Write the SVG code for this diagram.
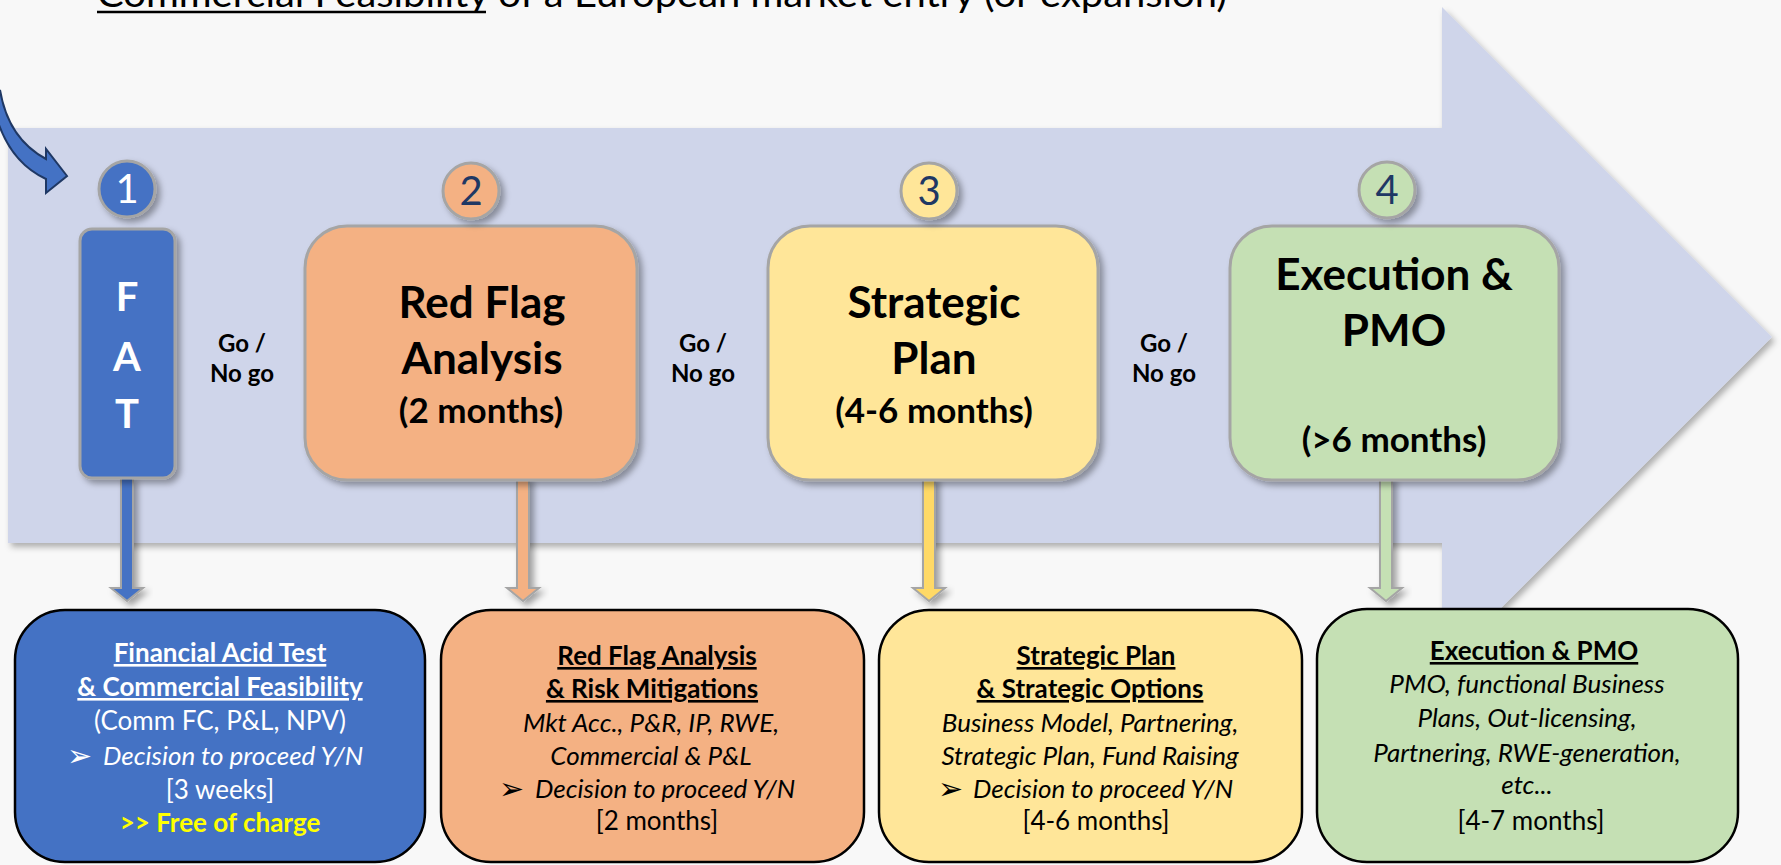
<svg xmlns="http://www.w3.org/2000/svg" width="1781" height="865" viewBox="0 0 1781 865">
<defs>
<filter id="sh" x="-20%" y="-20%" width="150%" height="150%">
<feDropShadow dx="4" dy="4" stdDeviation="3" flood-color="#000" flood-opacity="0.35"/>
</filter>
<filter id="shb" x="-5%" y="-5%" width="115%" height="115%">
<feDropShadow dx="3" dy="4" stdDeviation="3" flood-color="#000" flood-opacity="0.3"/>
</filter>
</defs>
<style>
text{font-family:Lato,"Open Sans","Liberation Sans",sans-serif}
.top{stroke:#A5A5A5;stroke-width:3;filter:url(#sh)}
.circ{stroke:#A5A5A5;stroke-width:3;filter:url(#sh)}
.num{font-size:40px;text-anchor:middle}
.big{font-size:44px;font-weight:bold;text-anchor:middle;fill:#000}
.dur{font-size:35px;font-weight:bold;text-anchor:middle;fill:#000}
.go{font-size:24px;font-weight:bold;text-anchor:middle;fill:#000}
.fat{font-size:40px;font-weight:bold;text-anchor:middle;fill:#fff}
.bot{stroke:#000;stroke-width:2.5}
.bt{font-size:26px;text-anchor:middle}
.st{text-anchor:start}
.hd{font-weight:bold;text-decoration:underline}
.it{font-style:italic}
.bul{font-family:"DejaVu Sans",sans-serif;font-size:30px}
.conn{stroke:#A5A5A5;stroke-width:2;filter:url(#sh)}
</style>
<rect x="0" y="0" width="1781" height="865" fill="#F8F8F8"/>
<g id="band">
<path d="M8,128 L1442,128 L1442,7 L1772,337 L1442,667 L1442,543 L8,543 Z" fill="#CFD5EA" filter="url(#shb)"/>
</g>
<g id="title">
<text x="97" y="7" font-size="36" fill="#000" textLength="1130" lengthAdjust="spacingAndGlyphs">Commercial Feasibility of a European market entry (or expansion)</text>
<line x1="97" y1="12" x2="486" y2="12" stroke="#000" stroke-width="2.5"/>
</g>
<g id="entry-arrow">
<path d="M0,90 C5,120 20,145 46,159 L46,149 L67,176 L46,193 L46,179 C18,166 2,142 -6,108 Z" fill="#4472C4" stroke="#1F3864" stroke-width="2"/>
</g>
<g id="connectors">
<path class="conn" fill="#4472C4" d="M121,478 L133,478 L133,588 L143,588 L127,601 L111,588 L121,588 Z"/>
<path class="conn" fill="#F4B183" d="M517,478 L529,478 L529,588 L539,588 L523,601 L507,588 L517,588 Z"/>
<path class="conn" fill="#FFD966" d="M923,478 L935,478 L935,588 L945,588 L929,601 L913,588 L923,588 Z"/>
<path class="conn" fill="#C5E0B4" d="M1380,478 L1392,478 L1392,588 L1402,588 L1386,601 L1370,588 L1380,588 Z"/>
</g>
<g id="fat">
<rect class="top" x="80" y="229" width="95" height="249" rx="12" fill="#4472C4"/>
<text class="fat" x="127" y="311">F</text>
<text class="fat" x="127" y="371">A</text>
<text class="fat" x="127" y="428">T</text>
</g>
<g id="step1">
<circle class="circ" cx="127" cy="189" r="28" fill="#4472C4"/>
<text class="num" x="127" y="203" fill="#fff">1</text>
</g>
<g id="redflag">
<rect class="top" x="305" y="226" width="332" height="254" rx="42" fill="#F4B183"/>
<text class="big" x="482" y="318">Red Flag</text>
<text class="big" x="482" y="374">Analysis</text>
<text class="dur" x="481" y="423">(2 months)</text>
</g>
<g id="step2">
<circle class="circ" cx="471" cy="191" r="28" fill="#F4B183"/>
<text class="num" x="471" y="205" fill="#1F3864">2</text>
</g>
<g id="strategic">
<rect class="top" x="768" y="226" width="330" height="254" rx="42" fill="#FFE699"/>
<text class="big" x="934" y="318">Strategic</text>
<text class="big" x="934" y="374">Plan</text>
<text class="dur" x="934" y="423">(4-6 months)</text>
</g>
<g id="step3">
<circle class="circ" cx="929" cy="191" r="28" fill="#FFE699"/>
<text class="num" x="929" y="205" fill="#1F3864">3</text>
</g>
<g id="execution">
<rect class="top" x="1230" y="226" width="329" height="254" rx="42" fill="#C5E0B4"/>
<text class="big" x="1394" y="290">Execution &amp;</text>
<text class="big" x="1394" y="346">PMO</text>
<text class="dur" x="1394" y="452">(&gt;6 months)</text>
</g>
<g id="step4">
<circle class="circ" cx="1387" cy="190" r="28" fill="#C5E0B4"/>
<text class="num" x="1387" y="204" fill="#1F3864">4</text>
</g>
<g id="gonogo">
<text class="go" x="242" y="352">Go /</text>
<text class="go" x="242" y="382">No go</text>
<text class="go" x="703" y="352">Go /</text>
<text class="go" x="703" y="382">No go</text>
<text class="go" x="1164" y="352">Go /</text>
<text class="go" x="1164" y="382">No go</text>
</g>
<g id="detail1">
<rect class="bot" x="15" y="610" width="410" height="252" rx="50" fill="#4472C4"/>
<text class="bt hd" x="220" y="662" fill="#fff">Financial Acid Test</text>
<text class="bt hd" x="220" y="696" fill="#fff">&amp; Commercial Feasibility</text>
<text class="bt" x="220" y="730" fill="#fff">(Comm FC, P&amp;L, NPV)</text>
<text class="bul" x="67" y="766" fill="#fff">➢</text>
<text class="bt it st" x="103" y="765" fill="#fff">Decision to proceed Y/N</text>
<text class="bt" x="220" y="799" fill="#fff">[3 weeks]</text>
<text class="bt" x="220" y="832" fill="#FFFF00" font-weight="bold">&gt;&gt; Free of charge</text>
</g>
<g id="detail2">
<rect class="bot" x="441" y="610" width="423" height="252" rx="50" fill="#F4B183"/>
<text class="bt hd" x="657" y="665" fill="#000">Red Flag Analysis</text>
<text class="bt hd" x="652" y="698" fill="#000">&amp; Risk Mitigations</text>
<text class="bt it" x="651" y="732" fill="#000">Mkt Acc., P&amp;R, IP, RWE,</text>
<text class="bt it" x="651" y="765" fill="#000">Commercial &amp; P&amp;L</text>
<text class="bul" x="499" y="799" fill="#000">➢</text>
<text class="bt it st" x="535" y="798" fill="#000">Decision to proceed Y/N</text>
<text class="bt" x="657" y="830" fill="#000">[2 months]</text>
</g>
<g id="detail3">
<rect class="bot" x="879" y="610" width="423" height="252" rx="50" fill="#FFE699"/>
<text class="bt hd" x="1096" y="665" fill="#000">Strategic Plan</text>
<text class="bt hd" x="1090" y="698" fill="#000">&amp; Strategic Options</text>
<text class="bt it" x="1090" y="732" fill="#000">Business Model, Partnering,</text>
<text class="bt it" x="1090" y="765" fill="#000">Strategic Plan, Fund Raising</text>
<text class="bul" x="938" y="799" fill="#000">➢</text>
<text class="bt it st" x="973" y="798" fill="#000">Decision to proceed Y/N</text>
<text class="bt" x="1096" y="830" fill="#000">[4-6 months]</text>
</g>
<g id="detail4">
<rect class="bot" x="1317" y="609" width="421" height="253" rx="50" fill="#C5E0B4"/>
<text class="bt hd" x="1534" y="660" fill="#000">Execution &amp; PMO</text>
<text class="bt it" x="1527" y="693" fill="#000">PMO, functional Business</text>
<text class="bt it" x="1527" y="727" fill="#000">Plans, Out-licensing,</text>
<text class="bt it" x="1527" y="762" fill="#000">Partnering, RWE-generation,</text>
<text class="bt it" x="1527" y="794" fill="#000">etc...</text>
<text class="bt" x="1531" y="830" fill="#000">[4-7 months]</text>
</g>
</svg>
